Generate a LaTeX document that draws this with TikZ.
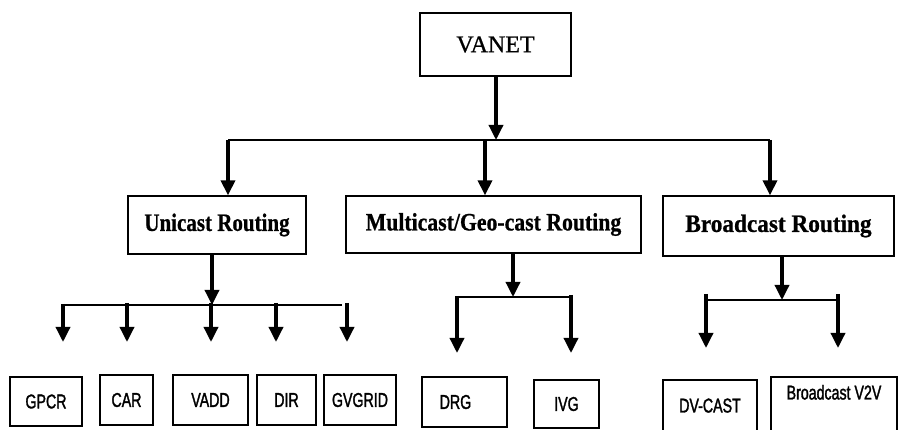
\documentclass[tikz,border=0pt]{standalone}
\usepackage{fontspec}
\usetikzlibrary{arrows.meta}
\newfontfamily\topfont[FakeBold=0.8]{Liberation Serif}
\newfontfamily\leaffont[FakeStretch=0.71,FakeBold=1.5]{Liberation Sans}
\begin{document}
\begin{tikzpicture}[x=1pt,y=-1pt,
  box/.style={draw, line width=1.3pt, inner sep=0pt, rectangle},
  topbox/.style={box, font=\topfont\fontsize{24}{24}\selectfont},
  midbox/.style={box, font=\topfont\bfseries\fontsize{25}{25}\selectfont},
  leaf/.style={box, font=\leaffont\fontsize{20}{20}\selectfont},
  arr/.style={line width=3.4pt, -{Triangle[width=14pt,length=15pt]}},
  bar/.style={line width=1.8pt}]
\useasboundingbox (0,0) rectangle (898,430);
% root
\node[topbox, minimum width=151pt, minimum height=63pt] (vanet) at (495.5,44.5) {\scalebox{1.0}[1]{VANET}};
% first bar
\coordinate (b1l) at (228,140);
\coordinate (b1r) at (770,140);
\coordinate (b1m) at (485,140);
\coordinate (b1v) at (496,140);
\draw[bar] (b1l) -- (b1r);
\draw[arr] (vanet.south -| b1v) -- (b1v);
% second level
\node[midbox, minimum width=178pt, minimum height=58pt] (uni) at (217,225) {\scalebox{0.84}[1]{Unicast Routing}};
\node[midbox, minimum width=295pt, minimum height=57pt] (multi) at (493.5,224.5) {\scalebox{0.87}[1]{Multicast/Geo-cast Routing}};
\node[midbox, minimum width=231pt, minimum height=60pt] (broad) at (778.5,226) {\scalebox{0.93}[1]{Broadcast Routing}};
\draw[arr] (b1l) -- (b1l |- uni.north);
\draw[arr] (b1m) -- (b1m |- multi.north);
\draw[arr] (b1r) -- (b1r |- broad.north);
% unicast bar
\coordinate (ub) at (212,305);
\coordinate (ubl) at (63,305);
\coordinate (ubr) at (342,305);
\draw[bar] (ubl) -- (ubr);
\draw[arr] (uni.south -| ub) -- (ub);
\coordinate (ua1) at (63,342);
\coordinate (ua2) at (127,342);
\coordinate (ua3) at (211,342);
\coordinate (ua4) at (276,342);
\coordinate (ua5) at (347,342);
\draw[arr] (63,304) -- (ua1);
\draw[arr] (127,303) -- (ua2);
\draw[arr] (211,303) -- (ua3);
\draw[arr] (276,303) -- (ua4);
\draw[arr] (347,303) -- (ua5);
% multicast bar
\coordinate (mb) at (513,297);
\coordinate (mbl) at (457,297);
\coordinate (mbr) at (572,297);
\draw[bar] (mbl) -- (mbr);
\draw[arr] (multi.south -| mb) -- (mb);
\coordinate (ma1) at (457,353);
\coordinate (ma2) at (571,353);
\draw[arr] (457,296) -- (ma1);
\draw[arr] (571,295) -- (ma2);
% broadcast bar
\coordinate (bb) at (782,300);
\coordinate (bbl) at (706,300);
\coordinate (bbr) at (838,300);
\draw[bar] (bbl) -- (bbr);
\draw[arr] (broad.south -| bb) -- (bb);
\coordinate (ba1) at (706,348);
\coordinate (ba2) at (838,348);
\draw[arr] (706,294) -- (ba1);
\draw[arr] (838,294) -- (ba2);
% leaves
\node[leaf, minimum width=72pt, minimum height=49pt] (gpcr) at (46,401.5) {GPCR};
\node[leaf, minimum width=53pt, minimum height=50pt] (car) at (126.5,400) {CAR};
\node[leaf, minimum width=75pt, minimum height=50pt] (vadd) at (210.5,400) {VADD};
\node[leaf, minimum width=59pt, minimum height=50pt] (dir) at (286.5,400) {DIR};
\node[leaf, minimum width=72pt, minimum height=50pt] (gvgrid) at (360,400) {GVGRID};
\node[leaf, minimum width=85pt, minimum height=50pt] (drg) at (464.5,402) {\hspace*{-18pt}DRG};
\node[leaf, minimum width=65pt, minimum height=48pt] (ivg) at (566.5,404) {IVG};
\node[leaf, minimum width=94pt, minimum height=60pt, text height=14pt, text depth=9pt] (dvcast) at (710,410) {DV-CAST};
\node[leaf, minimum width=126pt, minimum height=63pt, text height=14pt, text depth=32pt] (bv2v) at (834,408.5) {Broadcast V2V};
\end{tikzpicture}
\end{document}
